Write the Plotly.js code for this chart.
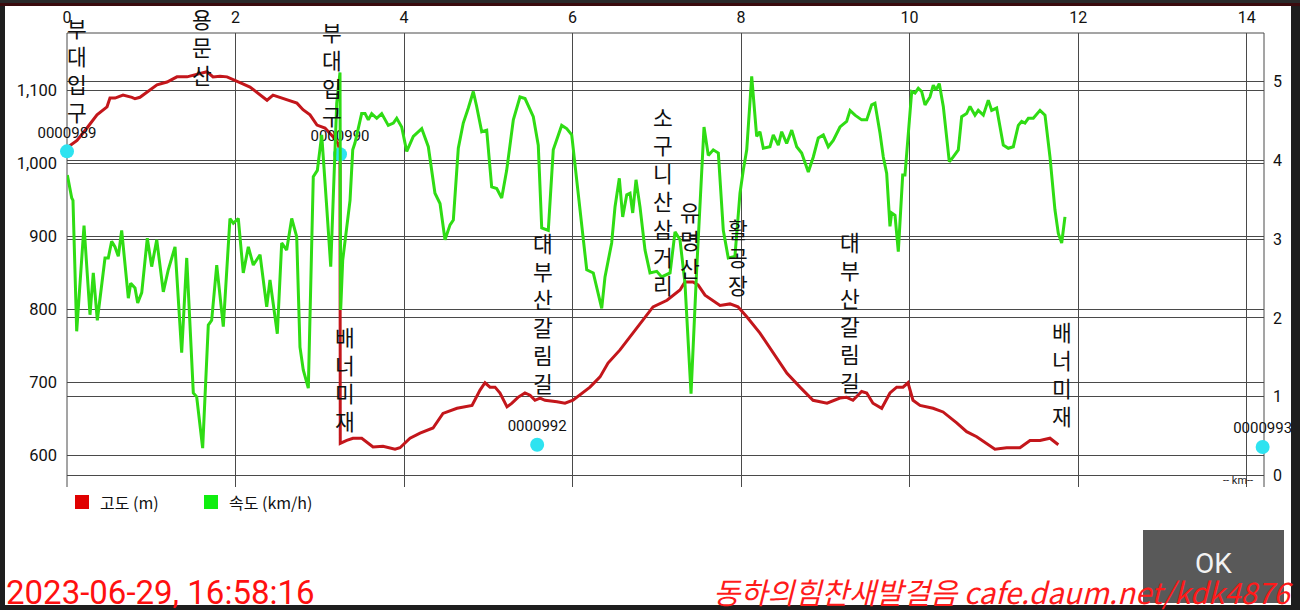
<!DOCTYPE html>
<html><head><meta charset="utf-8">
<script src="https://cdn.plot.ly/plotly-3.0.1.min.js"></script>
<style>html,body{margin:0;padding:0;background:#fff;overflow:hidden}#chart{width:1300px;height:610px}</style>
</head><body><div id="chart"></div>
<script>
// ---------- data ----------
const elevKm = [0.012,0.119,0.237,0.356,0.475,0.510,0.570,0.665,0.771,0.807,0.866,0.949,1.068,1.187,1.305,1.424,1.543,1.662,1.733,1.816,1.899,1.970,2.053,2.172,2.291,2.374,2.445,2.528,2.646,2.729,2.801,2.884,2.967,3.062,3.157,3.216,3.240,3.243,3.320,3.394,3.498,3.557,3.632,3.750,3.893,3.952,4.071,4.190,4.344,4.462,4.629,4.807,4.902,4.961,5.020,5.080,5.139,5.222,5.281,5.352,5.435,5.495,5.554,5.614,5.673,5.815,5.910,6.005,6.112,6.207,6.326,6.421,6.563,6.717,6.955,7.121,7.275,7.334,7.429,7.489,7.572,7.750,7.868,7.963,8.070,8.224,8.379,8.545,8.699,8.854,9.020,9.174,9.253,9.328,9.431,9.491,9.565,9.669,9.767,9.847,9.922,9.981,10.040,10.124,10.278,10.397,10.559,10.677,10.796,10.915,11.013,11.152,11.310,11.429,11.548,11.666,11.702,11.765];
const elevM = [1022,1031,1048,1066,1077,1089,1089,1093,1090,1088,1090,1097,1107,1111,1118,1118,1121,1125,1118,1119,1118,1114,1110,1104,1093,1086,1093,1090,1086,1082,1073,1066,1052,1048,1036,1027,1014,616,620,623,623,618,611,612,608,610,623,630,637,657,664,668,689,699,693,693,685,666,671,679,685,682,675,678,675,673,671,675,685,693,707,726,744,767,803,812,826,837,837,833,819,805,807,803,789,767,740,712,693,675,671,678,679,675,687,685,671,664,685,693,693,699,675,668,664,659,644,632,625,616,608,610,610,620,620,623,620,614];

const speedKm = [0.004,0.056,0.071,0.115,0.202,0.273,0.312,0.360,0.451,0.490,0.530,0.570,0.609,0.649,0.728,0.756,0.807,0.839,0.887,0.953,1.005,1.065,1.143,1.202,1.282,1.361,1.421,1.499,1.539,1.610,1.677,1.717,1.777,1.855,1.934,1.974,2.033,2.092,2.152,2.211,2.291,2.370,2.409,2.496,2.548,2.607,2.667,2.726,2.765,2.804,2.864,2.923,2.971,3.023,3.082,3.130,3.201,3.240,3.248,3.272,3.359,3.391,3.418,3.497,3.537,3.576,3.616,3.676,3.735,3.813,3.873,3.913,3.972,4.032,4.110,4.210,4.288,4.367,4.427,4.486,4.546,4.585,4.644,4.703,4.763,4.822,4.862,4.922,4.981,5.040,5.100,5.159,5.218,5.297,5.376,5.436,5.534,5.593,5.634,5.712,5.771,5.871,5.930,5.990,6.049,6.168,6.246,6.287,6.346,6.385,6.464,6.504,6.555,6.595,6.643,6.682,6.714,6.753,6.800,6.860,6.919,6.999,7.058,7.157,7.216,7.275,7.334,7.406,7.473,7.560,7.611,7.670,7.730,7.789,7.848,7.927,7.987,8.026,8.067,8.126,8.185,8.224,8.264,8.343,8.382,8.442,8.482,8.541,8.601,8.660,8.719,8.798,8.857,8.916,8.976,9.035,9.094,9.174,9.253,9.293,9.352,9.431,9.491,9.550,9.589,9.649,9.688,9.728,9.767,9.787,9.827,9.866,9.918,9.945,10.025,10.064,10.103,10.143,10.183,10.242,10.281,10.313,10.352,10.400,10.471,10.518,10.578,10.618,10.677,10.717,10.776,10.815,10.875,10.934,10.974,11.033,11.112,11.171,11.231,11.290,11.330,11.369,11.409,11.468,11.548,11.607,11.666,11.725,11.765,11.805,11.844];
const speedKmh = [3.81,3.52,3.49,1.83,3.17,2.04,2.57,1.97,2.76,2.76,2.97,2.90,2.78,3.11,2.25,2.44,2.38,2.19,2.32,3.01,2.65,2.99,2.33,2.61,2.90,1.56,2.76,1.05,1.00,0.35,1.91,1.97,2.67,1.89,3.26,3.20,3.26,2.57,2.90,2.67,2.80,2.14,2.48,1.80,2.95,2.86,3.26,3.03,1.63,1.34,1.11,3.79,3.87,4.32,3.41,2.65,4.72,5.11,2.10,2.73,3.49,4.13,4.22,4.59,4.59,4.51,4.59,4.53,4.59,4.44,4.47,4.53,4.42,4.11,4.30,4.40,4.17,3.58,3.45,2.99,3.18,3.24,4.15,4.47,4.66,4.87,4.68,4.36,4.38,3.66,3.64,3.52,3.87,4.51,4.80,4.78,4.55,4.19,3.14,3.11,4.13,4.44,4.40,4.32,3.75,2.61,2.57,2.40,2.12,2.52,2.95,3.41,3.77,3.28,3.56,3.58,3.33,3.75,3.41,2.86,2.57,2.59,2.52,2.57,3.09,2.99,2.44,1.04,2.61,4.42,4.06,4.13,4.09,3.11,2.76,2.78,3.58,3.87,4.13,5.06,4.30,4.36,4.15,4.17,4.32,4.19,4.36,4.21,4.38,4.17,4.09,3.85,4.04,4.28,4.32,4.17,4.25,4.42,4.49,4.63,4.57,4.51,4.51,4.70,4.72,4.34,4.04,3.83,3.16,3.33,3.30,2.84,3.81,3.81,4.87,4.85,4.91,4.87,4.70,4.80,4.95,4.89,4.97,4.68,3.98,4.04,4.13,4.55,4.59,4.68,4.57,4.63,4.57,4.76,4.63,4.66,4.19,4.15,4.17,4.44,4.49,4.47,4.53,4.53,4.63,4.57,4.04,3.37,3.07,2.95,3.28];

const wpNames = ['0000989','0000990','0000992','0000993'];
const wpKm = [0, 3.24, 5.58, 14.19];
const wpElev = [1016, 1012, 614, 611];

const placeNames = ['부대입구','용문산','부대입구','배너미재','대부산갈림길','소구니산삼거리','유명산','활공장','대부산갈림길','배너미재'];
const placeKm = [0.119, 1.60, 3.145, 3.30, 5.65, 7.07, 7.39, 7.96, 9.29, 11.81];

const xTicks = [0,2,4,6,8,10,12,14];
const elevTicks = [600,700,800,900,1000,1100];
const speedTicks = [0,1,2,3,4,5];
const legendNames = ['고도 (m)','속도 (km/h)'];
const dateText = '2023-06-29, 16:58:16';
const watermark = '동하의힘찬새발걸음 cafe.daum.net/kdk4876';

// ---------- layout helpers ----------
const W = 1300, H = 610, L = 67, R = 1264, T = 33, B = 487;
const px = v => (v - L) / (R - L);
const py = v => (B - v) / (B - T);
const placeCenterPx = [70, 46.75, 73.5, 378, 312, 200, 239, 256, 311, 373];

const FONT = 'Roboto, "Noto Sans", "Noto Sans CJK KR", sans-serif';
const KFONT = '"Noto Sans CJK KR", "Noto Sans", sans-serif';
const GRID = '#4a4a4a';

const traces = [
  {x: elevKm, y: elevM, type: 'scatter', mode: 'lines', name: legendNames[0],
   line: {color: '#c3161b', width: 3}, yaxis: 'y', hoverinfo: 'skip'},
  {x: speedKm, y: speedKmh, type: 'scatter', mode: 'lines', name: legendNames[1],
   line: {color: '#2fdc14', width: 3}, yaxis: 'y2', hoverinfo: 'skip'},
  {x: wpKm, y: wpElev, type: 'scatter', mode: 'markers+text', text: wpNames,
   textposition: 'top center', textfont: {family: FONT, size: 15, color: '#111'},
   marker: {color: '#2ee3f0', size: 14}, yaxis: 'y', cliponaxis: false, hoverinfo: 'skip'}
];

const annotations = placeNames.map((n, i) => ({
  text: n.split('').join('<br>'), x: placeKm[i], xref: 'x', y: py(placeCenterPx[i]), yref: 'paper',
  xanchor: 'center', yanchor: 'middle', showarrow: false,
  font: {family: KFONT, size: 21.5, color: '#111'}
}));
annotations.push(
  {text: legendNames[0], x: px(98), xref: 'paper', y: py(502), yref: 'paper', xanchor: 'left', yanchor: 'middle', showarrow: false, font: {family: KFONT, size: 16, color: '#111'}},
  {text: legendNames[1], x: px(227), xref: 'paper', y: py(502), yref: 'paper', xanchor: 'left', yanchor: 'middle', showarrow: false, font: {family: KFONT, size: 16, color: '#111'}},
  {text: '-- km--', x: px(1238), xref: 'paper', y: py(480), yref: 'paper', xanchor: 'center', yanchor: 'middle', showarrow: false, font: {family: FONT, size: 11, color: '#222'}},
  {text: 'OK', x: px(1213), xref: 'paper', y: py(563), yref: 'paper', xanchor: 'center', yanchor: 'middle', showarrow: false, font: {family: FONT, size: 28, color: '#f2f2f2'}},
  {text: dateText, x: px(4), xref: 'paper', y: py(592), yref: 'paper', xanchor: 'left', yanchor: 'middle', showarrow: false, font: {family: FONT, size: 33, color: '#ff1010'}},
  {text: watermark, x: px(1295), xref: 'paper', y: py(591), yref: 'paper', xanchor: 'right', yanchor: 'middle', showarrow: false, font: {family: KFONT, size: 29.5, color: '#ff1a1a', style: 'italic'}}
);

const rect = (x0, y0, x1, y1, fill) => ({type: 'rect', xref: 'paper', yref: 'paper', x0: px(x0), x1: px(x1), y0: py(y0), y1: py(y1), fillcolor: fill, line: {width: 0}, layer: 'above'});
const line = (x0, y0, x1, y1) => ({type: 'line', xref: 'paper', yref: 'paper', x0: px(x0), x1: px(x1), y0: py(y0), y1: py(y1), line: {color: GRID, width: 1}, layer: 'below'});

const shapes = [
  line(L, T, R, T), line(R, T, R, B), line(L, T, L, B),
  rect(75, 495, 89, 509, '#e00000'),
  rect(204, 495, 218, 509, '#10ee10'),
  rect(1143, 530, 1284, 603, '#595959'),
  rect(0, 0, 5, H, '#1e1e1e'),
  rect(1291, 0, W, H, '#1e1e1e'),
  rect(0, 0, W, 3, '#2a2a2a'),
  rect(0, 3, W, 6, '#3a0b0e'),
  rect(0, 605, W, H, '#1e1e1e')
];

const layout = {
  width: W, height: H,
  margin: {l: L, r: W - R, t: T, b: H - B, pad: 0},
  paper_bgcolor: '#ffffff', plot_bgcolor: '#ffffff',
  showlegend: false,
  font: {family: FONT, size: 16, color: '#111'},
  xaxis: {range: [0, (R - L) / 84.26], side: 'top', tickvals: xTicks, ticktext: xTicks.map(String),
    showgrid: true, gridcolor: GRID, gridwidth: 1, zeroline: false, showline: false,
    ticks: '', ticklabelstandoff: 6, tickfont: {family: FONT, size: 16, color: '#111'}},
  yaxis: {range: [556.2, 1178.1], tickvals: elevTicks, tickformat: ',', showgrid: true, gridcolor: GRID, gridwidth: 1,
    zeroline: false, showline: false, ticks: '', ticklabelstandoff: 9, tickfont: {family: FONT, size: 16.5, color: '#111'}},
  yaxis2: {range: [-0.143, 5.611], overlaying: 'y', side: 'right', tickvals: speedTicks, showgrid: true,
    gridcolor: GRID, gridwidth: 1, zeroline: false, showline: false, ticks: '', ticklabelstandoff: 8,
    tickfont: {family: FONT, size: 16, color: '#111'}},
  annotations: annotations,
  shapes: shapes
};

Plotly.newPlot('chart', traces, layout, {staticPlot: true, displayModeBar: false});
</script>
</body></html>
